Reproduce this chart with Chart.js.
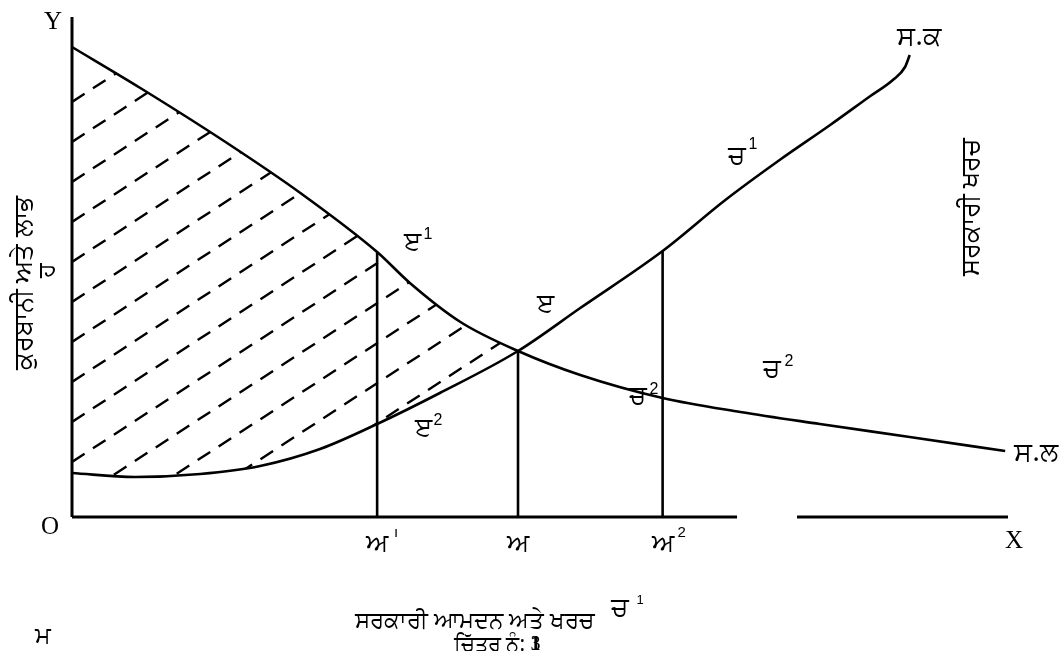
<!DOCTYPE html>
<html>
<head>
<meta charset="utf-8">
<script src="https://cdn.jsdelivr.net/npm/chart.js@4.4.0/dist/chart.umd.min.js"></script>
<style>
  html, body { margin: 0; padding: 0; background: #fff; }
  #wrap { width: 1064px; height: 651px; }
</style>
</head>
<body>
<div id="wrap"><canvas id="chart" width="1064" height="651"></canvas></div>
<script>
// ਸ.ਲ curve (falling), x and y on a 0-100 scale
const benefitX = [0, 7.3, 16.4, 24.4, 32.6, 36.1, 41.5, 47.65, 54.3, 63.1, 71.4, 79.9, 89.5, 99.7];
const benefitY = [94, 85.8, 75, 64.8, 53, 46.8, 39, 33.2, 28.4, 23.8, 21, 18.6, 16, 13.2];

// ਸ.ਕ curve (rising)
const costX = [0, 6.7, 13.7, 20.1, 26.5, 32.6, 39.3, 47.65, 54.3, 63.1, 69.8, 75.6, 81, 85.3, 87.7, 89, 89.5];
const costY = [8.8, 8, 8.6, 10.2, 13.6, 18.6, 24.8, 33.2, 41.8, 53.2, 63.4, 71.4, 78.4, 84.2, 87.4, 90, 92.4];

// index where both curves meet (point ੲ)
const crossIndex = 7;

// vertical lines at ਅ¹, ਅ, ਅ²
const dropX = [32.6, 47.65, 63.1];
const dropTop = [53, 33.2, 53.2];
const dropLabels = ['ਅ', 'ਅ', 'ਅ'];
const dropSup = ['ı', '', '2'];

// x axis is drawn in two pieces, there is a gap in the original
const axisPieces = [[0, 71.05], [77.46, 100]];

// hatch lines: where each one starts on the y axis (can be below 0)
const hatchStart = [83, 75, 67, 59, 51, 43, 35, 27, 19, 11, 3, -5, -13, -21, -29];
const hatchSlope = 1.22;

const GUR = '"Noto Sans", "DejaVu Sans", sans-serif';
const SERIF = '"Liberation Serif", "DejaVu Serif", serif';
const SANS = '"Liberation Sans", Arial, sans-serif';

function pts(xs, ys) {
  return xs.map((v, i) => ({ x: v, y: ys[i] }));
}

function line(data, width, extra) {
  return Object.assign({
    data: data,
    showLine: true,
    borderColor: '#000',
    borderWidth: width,
    pointRadius: 0,
    clip: false
  }, extra || {});
}

const datasets = [
  line(pts(benefitX, benefitY), 2.6, { cubicInterpolationMode: 'monotone' }),
  line(pts(costX, costY), 2.6, { cubicInterpolationMode: 'monotone' }),
  line([{ x: 0, y: 0 }, { x: 0, y: 100 }], 3)
];
axisPieces.forEach(p => datasets.push(line([{ x: p[0], y: 0 }, { x: p[1], y: 0 }], 3)));
dropX.forEach((v, i) => datasets.push(line([{ x: v, y: 0 }, { x: v, y: dropTop[i] }], 2.6)));

function tracePath(ctx, p, n) {
  ctx.moveTo(p[0].x, p[0].y);
  for (let i = 1; i <= n; i++) {
    const a = p[i - 1], b = p[i];
    ctx.bezierCurveTo(a.cp2x, a.cp2y, b.cp1x, b.cp1y, b.x, b.y);
  }
}

// dashed hatching between the two curves, left of the crossing point
const hatchPlugin = {
  id: 'hatch',
  afterDatasetsDraw(chart) {
    const { ctx, chartArea } = chart;
    const sx = chart.scales.x, sy = chart.scales.y;
    const m0 = chart.getDatasetMeta(0), m1 = chart.getDatasetMeta(1);
    m0.dataset.updateControlPoints(chartArea, 'x');
    m1.dataset.updateControlPoints(chartArea, 'x');
    const top = m0.data, bot = m1.data;
    ctx.save();
    ctx.beginPath();
    tracePath(ctx, top, crossIndex);
    ctx.lineTo(top[crossIndex].x, chartArea.bottom);
    ctx.lineTo(top[0].x, chartArea.bottom);
    ctx.closePath();
    ctx.clip();
    ctx.beginPath();
    tracePath(ctx, bot, crossIndex);
    ctx.lineTo(bot[crossIndex].x, chartArea.top);
    ctx.lineTo(bot[0].x, chartArea.top);
    ctx.closePath();
    ctx.clip();
    ctx.strokeStyle = '#000';
    ctx.lineWidth = 2.4;
    ctx.setLineDash([15, 10]);
    hatchStart.forEach(c => {
      ctx.beginPath();
      ctx.moveTo(sx.getPixelForValue(0), sy.getPixelForValue(c));
      ctx.lineTo(sx.getPixelForValue(60), sy.getPixelForValue(c + hatchSlope * 60));
      ctx.stroke();
    });
    ctx.restore();
  }
};

function txt(ctx, t, x, y, font, rot) {
  ctx.save();
  ctx.font = font;
  ctx.translate(x, y);
  if (rot) ctx.rotate(rot);
  ctx.fillText(t, 0, 0);
  ctx.restore();
}

const textPlugin = {
  id: 'texts',
  afterDraw(chart) {
    const ctx = chart.ctx;
    const sx = chart.scales.x;
    ctx.save();
    ctx.fillStyle = '#000';
    ctx.textAlign = 'center';
    ctx.textBaseline = 'middle';

    txt(ctx, 'Y', 53, 22, '25px ' + SERIF);
    txt(ctx, 'O', 50, 527, '25px ' + SERIF);
    txt(ctx, 'X', 1014, 541, '25px ' + SERIF);

    txt(ctx, 'ਸ.ਕ', 919, 37, '27px ' + GUR);
    txt(ctx, 'ਸ.ਲ', 1036, 453, '27px ' + GUR);

    txt(ctx, 'ਚ', 737, 157, '26px ' + GUR);
    txt(ctx, '1', 753, 145, '16px ' + SANS);
    txt(ctx, 'ੲ', 412, 243, '26px ' + GUR);
    txt(ctx, '1', 428, 235, '16px ' + SANS);
    txt(ctx, 'ੲ', 545, 305, '26px ' + GUR);
    txt(ctx, 'ੲ', 423, 429, '26px ' + GUR);
    txt(ctx, '2', 438, 421, '16px ' + SANS);
    txt(ctx, 'ਚ', 638, 397, '26px ' + GUR);
    txt(ctx, '2', 654, 390, '16px ' + SANS);
    txt(ctx, 'ਚ', 772, 370, '26px ' + GUR);
    txt(ctx, '2', 789, 362, '16px ' + SANS);

    // tick labels under the vertical lines
    dropX.forEach((v, i) => {
      const px = sx.getPixelForValue(v);
      txt(ctx, dropLabels[i], px, 545, '26px ' + GUR);
      if (dropSup[i]) txt(ctx, dropSup[i], px + 19, 533, '15px ' + SANS);
    });

    txt(ctx, 'ਚ', 620, 609, '26px ' + GUR);
    txt(ctx, '1', 640, 600, '13px ' + SANS);
    txt(ctx, 'ਸਰਕਾਰੀ ਆਮਦਨ ਅਤੇ ਖਰਚ', 475, 621, '23px ' + GUR);
    ctx.textAlign = 'left';
    ctx.font = '21px ' + GUR;
    const lbl = 'ਚਿੱਤਰ ਨੰ: ';
    const w = ctx.measureText(lbl).width;
    txt(ctx, lbl, 454, 645, '21px ' + GUR);
    txt(ctx, '1', 454 + w, 645, 'bold 20px ' + SERIF);
    txt(ctx, '3', 454 + w, 645, '20px ' + SERIF);
    ctx.textAlign = 'center';
    txt(ctx, 'ਮ', 43, 636, '24px ' + GUR);

    txt(ctx, 'ਕੁਰਬਾਨੀ ਅਤੇ ਲਾਭ', 25, 283, '26px ' + GUR, -Math.PI / 2);
    txt(ctx, 'ਹ', 47, 270, '24px ' + GUR, -Math.PI / 2);
    txt(ctx, 'ਸਰਕਾਰੀ ਖਰਚ', 972, 207, '26px ' + GUR, -Math.PI / 2);
    ctx.restore();
  }
};

new Chart(document.getElementById('chart'), {
  type: 'scatter',
  data: { datasets: datasets },
  options: {
    responsive: false,
    devicePixelRatio: 1,
    animation: false,
    layout: { padding: { left: 72, right: 56, top: 17, bottom: 134 } },
    plugins: { legend: { display: false }, tooltip: { enabled: false } },
    scales: {
      x: { type: 'linear', min: 0, max: 100, display: false },
      y: { type: 'linear', min: 0, max: 100, display: false }
    }
  },
  plugins: [hatchPlugin, textPlugin]
});
</script>
</body>
</html>
